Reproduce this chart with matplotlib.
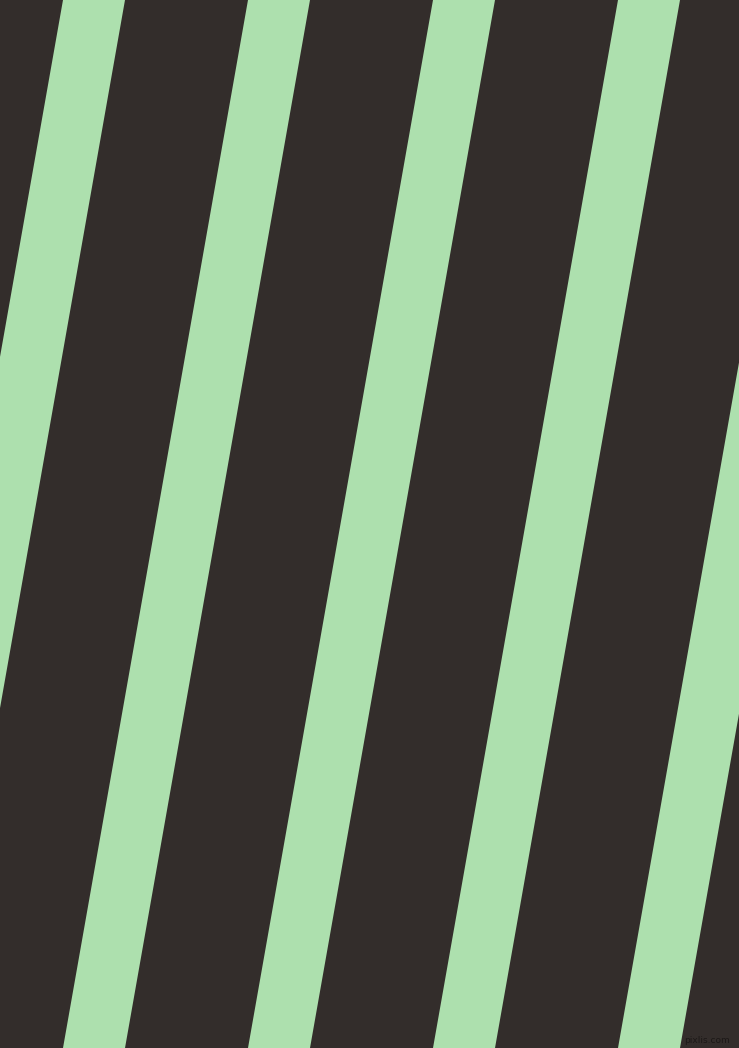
import matplotlib.pyplot as plt
from matplotlib.patches import Polygon

# image size in pixels
width_px = 739
height_px = 1048

# stripe left edges along the top row, stripe width and horizontal drift over the full height
stripe_left_top = [-122, 63, 248, 433, 618, 803]
stripe_width = 62
drift = -185

background = "#332d2b"
stripe_color = "#ade0ae"

fig = plt.figure(figsize=(width_px / 100, height_px / 100), dpi=100)
ax = fig.add_axes([0, 0, 1, 1])
ax.set_xlim(0, width_px)
ax.set_ylim(height_px, 0)
ax.set_facecolor(background)
fig.patch.set_facecolor(background)
ax.axis("off")

for x0 in stripe_left_top:
    pts = [
        (x0, 0),
        (x0 + stripe_width, 0),
        (x0 + stripe_width + drift, height_px),
        (x0 + drift, height_px),
    ]
    ax.add_patch(Polygon(pts, closed=True, facecolor=stripe_color, edgecolor="none"))

ax.text(730, 1045, "pixlis.com", color="#1c1817", fontsize=6.5,
        ha="right", va="bottom")

fig.savefig("out.png", dpi=100, facecolor=background)
